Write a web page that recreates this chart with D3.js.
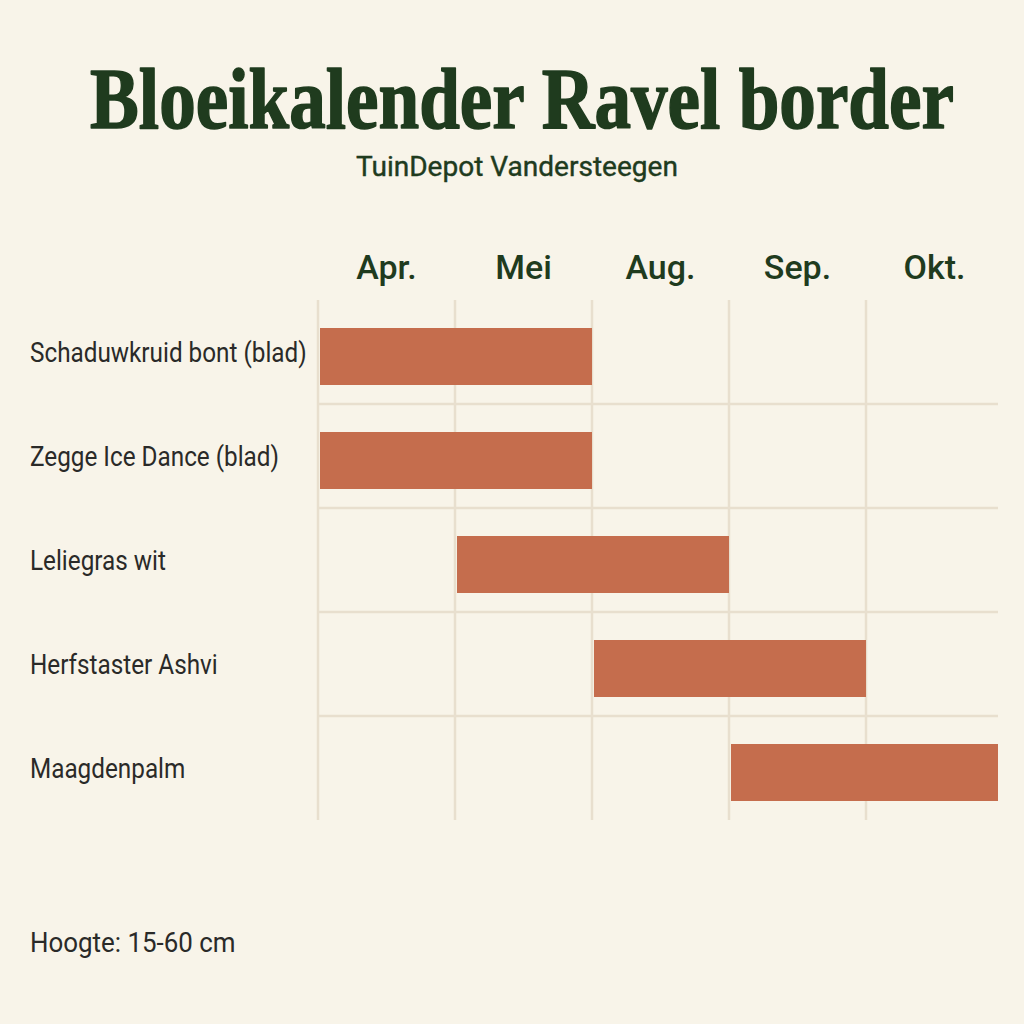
<!DOCTYPE html>
<html><head><meta charset="utf-8">
<script src="https://cdn.jsdelivr.net/npm/d3@7"></script>
<style>html,body{margin:0;padding:0;background:#f8f4e9;}svg{display:block;}</style>
</head><body>
<svg id="chart" width="1024" height="1024"></svg>
<script>
const title = "Bloeikalender Ravel border";
const subtitle = "TuinDepot Vandersteegen";
const footer = "Hoogte: 15-60 cm";
const months = ["Apr.", "Mei", "Aug.", "Sep.", "Okt."];
const plants = ["Schaduwkruid bont (blad)", "Zegge Ice Dance (blad)", "Leliegras wit", "Herfstaster Ashvi", "Maagdenpalm"];
const startMonth = ["Apr.", "Apr.", "Mei", "Aug.", "Sep."];
const endMonth = ["Mei", "Mei", "Aug.", "Sep.", "Okt."];

(function () {
const svg = d3.select("#chart");
const W = 1024, H = 1024;
svg.append("rect").attr("width", W).attr("height", H).attr("fill", "#f8f4e9");

const pLeft = 318, pRight = 1003, plotRight = 998, pTop = 300, pBottom = 820;
const x = d3.scaleBand().domain(months).range([pLeft, pRight]);
const y = d3.scaleBand().domain(plants).range([pTop, pBottom]);
const bw = x.bandwidth();
const green = "#1f3b1e";

// helper: fit text to a given width by horizontal scaling around an anchor x
function fitWidth(sel, targetW, ax) {
  const w = sel.node().getComputedTextLength();
  const s = targetW / w;
  sel.attr("transform", `translate(${ax},0) scale(${s},1) translate(${-ax},0)`);
}

// Title
const t = svg.append("text").attr("x", 522).attr("y", 128).attr("text-anchor", "middle")
  .attr("font-family", "Liberation Serif, DejaVu Serif, serif").attr("font-weight", "bold")
  .attr("font-size", 86).attr("fill", green)
  .attr("stroke", green).attr("stroke-width", 1.6).attr("stroke-linejoin", "round")
  .text(title);
fitWidth(t, 864, 522);

const st = svg.append("text").attr("x", 517).attr("y", 176).attr("text-anchor", "middle")
  .attr("font-family", "Roboto, sans-serif").attr("font-weight", 400).attr("font-size", 28).attr("fill", green)
  .attr("stroke", green).attr("stroke-width", 0.4)
  .text(subtitle);
fitWidth(st, 322, 517);

// Grid
const grid = svg.append("g").attr("stroke", "#e8dfce").attr("stroke-width", 2.5);
grid.selectAll("line.v").data(months).join("line").attr("class", "v")
  .attr("x1", d => x(d)).attr("x2", d => x(d)).attr("y1", pTop).attr("y2", pBottom);
grid.selectAll("line.h").data(plants.slice(1)).join("line").attr("class", "h")
  .attr("x1", pLeft).attr("x2", plotRight).attr("y1", d => y(d)).attr("y2", d => y(d));

// Month headers
svg.selectAll("text.month").data(months).join("text").attr("class", "month")
  .attr("x", d => x(d) + bw / 2).attr("y", 279).attr("text-anchor", "middle")
  .attr("font-family", "Roboto, sans-serif").attr("font-weight", 500)
  .attr("font-size", 34).attr("fill", green)
  .text(d => d);

// Bars
const barH = 57;
svg.selectAll("rect.bar").data(plants).join("rect").attr("class", "bar")
  .attr("x", (d, i) => x(startMonth[i]) + 2)
  .attr("y", d => y(d) + 28)
  .attr("width", (d, i) => Math.min(x(endMonth[i]) + bw, plotRight) - x(startMonth[i]) - 2)
  .attr("height", barH)
  .attr("fill", "#c56d4d");

// Row labels
svg.selectAll("text.label").data(plants).join("text").attr("class", "label")
  .attr("x", 30).attr("y", d => y(d) + y.bandwidth() / 2 + 10)
  .attr("font-family", "Roboto, sans-serif").attr("font-size", 27).attr("fill", "#2a2a28")
  .attr("transform", "translate(30,0) scale(0.9,1) translate(-30,0)")
  .text(d => d);

// Footer
svg.append("text").attr("x", 30).attr("y", 952)
  .attr("font-family", "Roboto, sans-serif").attr("font-size", 27).attr("fill", "#2a2a28")
  .attr("transform", "translate(30,0) scale(0.96,1) translate(-30,0)")
  .text(footer);
})();
</script>
</body></html>
